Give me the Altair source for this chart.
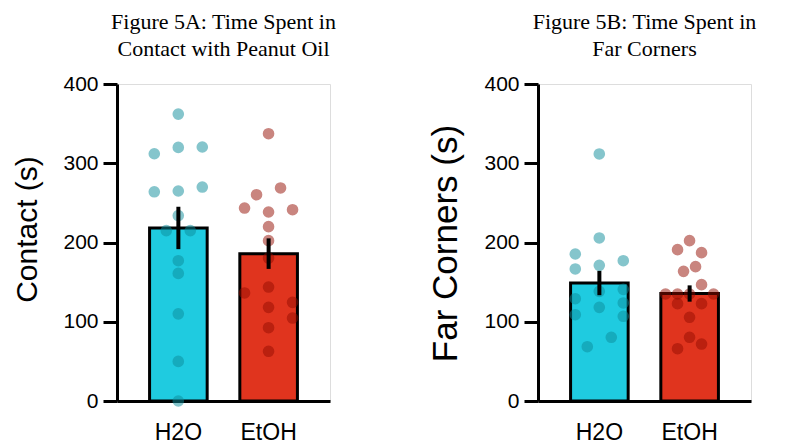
import altair as alt
import pandas as pd

groups = ["H2O", "EtOH"]
bar_colors = ["#1fcbe0", "#e0341e"]
point_colors = ["#0b8b99", "#930b00"]

# Figure 5A: contact time (s)
a_h2o = [362, 312, 320, 320.5, 264, 265, 270, 234, 215, 215, 177, 161, 110, 50, 0]
a_h2o_off = [0, -2, 0, 2, -2, 0, 2, 0, -1, 1, 0, 0, 0, 0, 0]
a_etoh = [337.3, 268.8, 260.3, 243.5, 238.5, 241.4, 220, 202.3, 180.4, 143.8, 136.3, 124.5, 118.2, 104.7, 92.5, 62.7]
a_etoh_off = [0, 1, -1, -2, 0, 2, 0, 0, 0, 0, -2, 2, 0, 2, 0, 0]

# Figure 5B: far corners time (s)
b_h2o = [311.7, 205.7, 185.5, 177, 171.2, 166.6, 140.9, 138.4, 129.1, 123.7, 118.2, 108.9, 106.9, 80.4, 68.5]
b_h2o_off = [0, 0, -2, 2, 0, -2, 2, 0, -2, 2, 0, -2, 2, 1, -1]
b_etoh = [202.3, 191, 187.2, 169.5, 163.6, 146.8, 135, 135, 135, 135, 122.8, 122.8, 105.6, 80.4, 71.9, 66]
b_etoh_off = [0, -1, 1, 0.5, -0.5, 1, -2, -1, 0, 2, -1, 1, 0, 0, 1, -1]

y_ticks = [0, 100, 200, 300, 400]

FONT = "Liberation Sans"


def make_df(h2o, h2o_off, etoh, etoh_off):
    rows = []
    for v, o in zip(h2o, h2o_off):
        rows.append({"group": "H2O", "value": v, "offset": o})
    for v, o in zip(etoh, etoh_off):
        rows.append({"group": "EtOH", "value": v, "offset": o})
    return pd.DataFrame(rows)


def panel(df, ytitle, title_lines, ytitle_size, ytitle_y):
    xenc = alt.X(
        "group:N",
        sort=groups,
        title=None,
        scale=alt.Scale(domain=groups, paddingInner=0.36, paddingOuter=0.36),
        axis=alt.Axis(
            labelAngle=0, ticks=False, domainColor="black", domainWidth=3,
            labelFontSize=23, labelColor="black", labelFont=FONT, labelPadding=20,
        ),
    )
    yscale = alt.Scale(domain=[0, 400], nice=False)
    yaxis = alt.Axis(
        values=y_ticks, grid=False, domainColor="black", domainWidth=3,
        tickColor="black", tickWidth=3, tickSize=14,
        labelFontSize=21, labelColor="black", labelFont=FONT, labelPadding=5,
        titleFontSize=ytitle_size, titleFontWeight="normal", titleFont=FONT,
        titleColor="black", titlePadding=20, titleY=ytitle_y,
    )
    base = alt.Chart(df)
    bars = base.mark_bar(stroke="black", strokeWidth=3, width=57.6).encode(
        x=xenc,
        y=alt.Y("mean(value):Q", scale=yscale, title=ytitle, axis=yaxis),
        color=alt.Color("group:N", scale=alt.Scale(domain=groups, range=bar_colors), legend=None),
    )
    pts = base.mark_circle(size=135, opacity=0.5).encode(
        x=xenc,
        xOffset=alt.XOffset("offset:Q", scale=alt.Scale(domain=[-2.4, 2.4], range=[0, 57.6])),
        y=alt.Y("value:Q", scale=yscale, title=ytitle, axis=yaxis),
        color=alt.Color("group:N", scale=alt.Scale(domain=groups, range=point_colors), legend=None),
    )
    err = base.mark_errorbar(extent="stderr", thickness=4, color="black").encode(
        x=xenc,
        y=alt.Y("value:Q", scale=yscale, title=ytitle, axis=yaxis),
    )
    return (
        alt.layer(bars, pts, err)
        .resolve_scale(color="independent")
        .properties(
            width=213,
            height=317,
            title=alt.TitleParams(
                title_lines, font="Liberation Serif", fontSize=22, fontWeight="normal",
                color="black", anchor="middle", lineHeight=27, offset=12,
            ),
        )
    )


pa = panel(make_df(a_h2o, a_h2o_off, a_etoh, a_etoh_off), "Contact (s)",
           ["Figure 5A: Time Spent in", "Contact with Peanut Oil"], 30, 145)
pb = panel(make_df(b_h2o, b_h2o_off, b_etoh, b_etoh_off), "Far Corners (s)",
           ["Figure 5B: Time Spent in", "Far Corners"], 35, 159)

chart = (
    alt.hconcat(pa, pb, spacing=91)
    .properties(padding={"left": 4, "top": 2, "right": 0, "bottom": 0})
    .configure_view(stroke=None)
    .configure(background="white")
)

chart.save("out.html", embed_options={"renderer": "svg", "actions": False})
